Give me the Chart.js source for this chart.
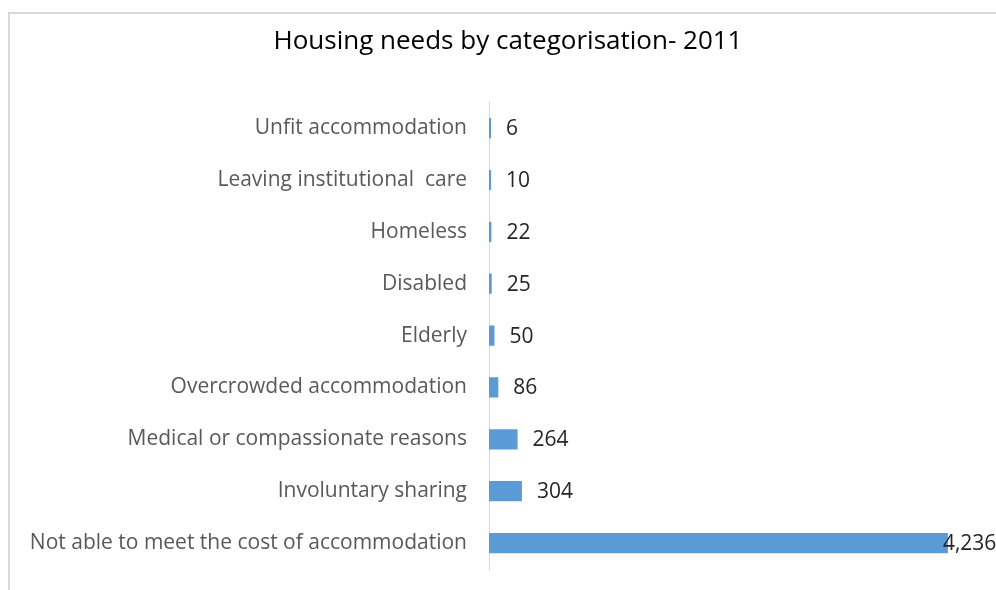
<!DOCTYPE html>
<html>
<head>
<meta charset="utf-8">
<script src="https://cdn.jsdelivr.net/npm/chart.js@4.4.1/dist/chart.umd.min.js"></script>
<style>
  html, body { margin: 0; padding: 0; background: #fff; }
  #wrap { width: 996px; height: 590px; position: relative; }
</style>
</head>
<body>
<div id="wrap"><canvas id="housing"></canvas></div>
<script>
var categories = [
  "Unfit accommodation",
  "Leaving institutional  care",
  "Homeless",
  "Disabled",
  "Elderly",
  "Overcrowded accommodation",
  "Medical or compassionate reasons",
  "Involuntary sharing",
  "Not able to meet the cost of accommodation"
];
var households = [6, 10, 22, 25, 50, 86, 264, 304, 4236];
var xMax = 4680;

// light frame round the chart, like the spreadsheet chart border
var framePlugin = {
  id: "frame",
  beforeDraw: function (chart) {
    var c = chart.ctx;
    c.save();
    c.strokeStyle = "#d9d9d9";
    c.lineWidth = 2;
    c.strokeRect(9, 13, 2000, 2000);
    c.restore();
  }
};

// value labels to the right of each bar
var valuePlugin = {
  id: "values",
  afterDatasetsDraw: function (chart) {
    var c = chart.ctx;
    var meta = chart.getDatasetMeta(0);
    c.save();
    c.font = "21px 'Open Sans'";
    c.fillStyle = "#262626";
    c.textBaseline = "middle";
    meta.data.forEach(function (bar, i) {
      var txt = households[i].toLocaleString("en-US");
      var x = bar.x + 15;
      if (x + c.measureText(txt).width > chart.width) x = bar.x - 5;
      c.fillText(txt, x, bar.y + 1);
    });
    c.restore();
  }
};

new Chart(document.getElementById("housing"), {
  type: "bar",
  data: {
    labels: categories,
    datasets: [{
      data: households,
      backgroundColor: "#5b9bd5",
      categoryPercentage: 0.39,
      barPercentage: 1,
      minBarLength: 2
    }]
  },
  options: {
    indexAxis: "y",
    responsive: true,
    maintainAspectRatio: false,
    animation: false,
    layout: { padding: { left: 20, right: 0, top: 0, bottom: 21 } },
    plugins: {
      legend: { display: false },
      tooltip: { enabled: false },
      title: {
        display: true,
        text: "Housing needs by categorisation- 2011",
        color: "#000",
        font: { family: "'Open Sans'", size: 26, weight: "normal" },
        padding: { top: 26, bottom: 45 }
      }
    },
    scales: {
      x: { display: false, min: 0, max: xMax },
      y: {
        grid: { display: false, drawTicks: false },
        border: { display: true, color: "#d9d9d9", width: 1 },
        ticks: {
          color: "#595959",
          padding: 22,
          font: { family: "'Open Sans'", size: 21 }
        },
        afterFit: function (scale) {
          scale.width = 469;
          scale.paddingTop = 0;
          scale.paddingBottom = 0;
        }
      }
    }
  },
  plugins: [framePlugin, valuePlugin]
});
</script>
</body>
</html>
